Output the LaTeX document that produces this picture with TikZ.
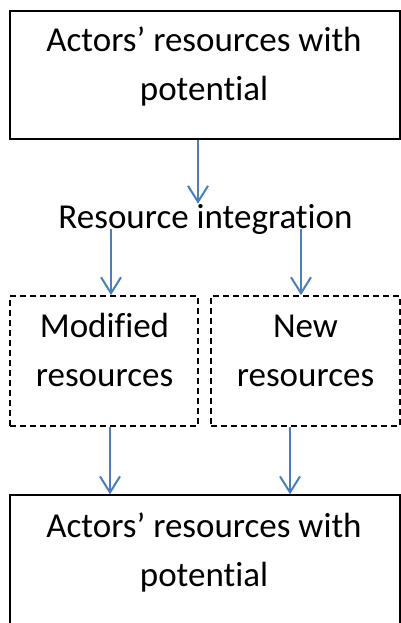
\documentclass[tikz,border=0pt]{standalone}
\usepackage{fontspec}
\setmainfont{Carlito}[Ligatures=NoCommon]
\usetikzlibrary{arrows.meta}
\definecolor{flowblue}{RGB}{74,126,187}
\begin{document}
\begin{tikzpicture}[x=1pt, y=-1pt,
	solidbox/.style = {draw, line width=1.4pt, inner sep=0pt},
	dashbox/.style = {draw, dash pattern=on 6pt off 4pt, line width=1.8pt, inner sep=0pt, minimum height=130pt},
	lbl/.style = {font=\fontsize{35}{49}\selectfont, align=center, anchor=base, inner sep=0pt},
	flow/.style = {draw=flowblue, line width=2pt, -{Straight Barb[length=16pt, width=20pt, line width=2pt]}}]
	\useasboundingbox (0,0) rectangle (401,623);
	
	\node [solidbox, minimum width=390pt, minimum height=128pt] (topbox) at (205,75) {};
	\node [dashbox, minimum width=188pt] (modbox) at (104,361) {};
	\node [dashbox, minimum width=189pt] (newbox) at (305.5,361) {};
	\node [solidbox, minimum width=390pt, minimum height=150pt] (botbox) at (205,570) {};
	
	\node [lbl] (toplbl) at (204,101) {Actors’ resources with\\potential};
	\node [lbl] (integ) at (205.5,228) {Resource integration};
	\node [lbl] (modlbl) at (104.5,386) {Modified\\resources};
	\node [lbl] (newlbl) at (305.5,386) {New\\resources};
	\node [lbl] (botlbl) at (204,586) {Actors’ resources with\\potential};
	
	\coordinate (x1) at (198,0);
	\coordinate (x2) at (111,0);
	\coordinate (x3) at (301,0);
	\coordinate (x4) at (110,0);
	\coordinate (x5) at (290,0);
	
	\draw [flow] (topbox.south -| x1) -- (integ.north -| x1);
	\draw [flow] ([yshift=-1pt]integ.base -| x2) -- (modbox.north -| x2);
	\draw [flow] ([yshift=-1pt]integ.base -| x3) -- (newbox.north -| x3);
	\draw [flow] (modbox.south -| x4) -- (botbox.north -| x4);
	\draw [flow] (newbox.south -| x5) -- (botbox.north -| x5);
\end{tikzpicture}
\end{document}
